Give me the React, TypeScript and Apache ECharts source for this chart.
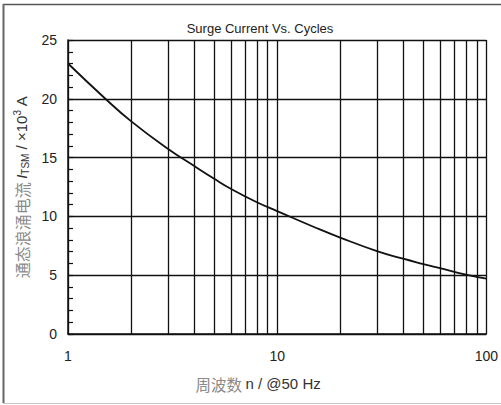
import React, { useEffect, useRef } from "react";
import * as echarts from "echarts";

const cycles = [1, 1.5, 2, 3, 4, 5, 6, 8, 10, 15, 20, 30, 40, 50, 60, 80, 100];
const surgeCurrent = [23.0, 20.05, 18.1, 15.75, 14.3, 13.2, 12.35, 11.2, 10.45, 9.1, 8.2, 7.05, 6.4, 5.95, 5.6, 5.05, 4.7];
const minorGridX = [2, 3, 4, 5, 6, 7, 8, 9, 20, 30, 40, 50, 60, 70, 80, 90];
const yTicks = [0, 5, 10, 15, 20, 25];
const xTicks = [1, 10, 100];

const FONT = "'Liberation Sans Narrow', 'Arial Narrow', 'Liberation Sans', Arial, sans-serif";
const CJK = "'Noto Sans CJK SC', sans-serif";

export default function App() {
  const ref = useRef<HTMLDivElement>(null);
  useEffect(() => {
    if (!ref.current) return;
    const chart = echarts.init(ref.current, undefined, { renderer: "svg" });
    const black = "#111";
    chart.setOption({
      animation: false,
      backgroundColor: "#fff",
      title: {
        text: "Surge Current Vs. Cycles",
        left: 255,
        top: 17,
        textAlign: "center",
        textStyle: { fontFamily: FONT, fontSize: 13, fontWeight: "normal", color: "#222" },
      },
      grid: { left: 68, top: 40, right: 14, bottom: 71 },
      xAxis: {
        type: "log",
        logBase: 10,
        min: xTicks[0],
        max: xTicks[xTicks.length - 1],
        name: "{cn|周波数} {en|n / @50 Hz}",
        nameLocation: "middle",
        nameGap: 42,
        nameTextStyle: {
          padding: [0, 38, 0, 0],
          rich: {
            cn: { fontFamily: CJK, fontSize: 15.5, color: "#8a8a8a" },
            en: { fontFamily: FONT, fontSize: 15, color: "#333" },
          },
        },
        axisLine: { show: true, lineStyle: { color: black, width: 1.5 } },
        axisTick: { show: false },
        axisLabel: {
          fontFamily: FONT,
          fontSize: 14,
          color: "#222",
          margin: 15,
          formatter: (v: number) => String(v),
        },
        splitLine: { show: true, lineStyle: { color: black, width: 1.3 } },
      },
      yAxis: {
        type: "value",
        min: yTicks[0],
        max: yTicks[yTicks.length - 1],
        interval: 5,
        name: "{cn|通态浪涌电流} {it|I}{sub|TSM}{en| / ×10}{sup|3}{en| A}",
        nameLocation: "middle",
        nameGap: 33,
        nameTextStyle: {
          lineHeight: 18,
          rich: {
            cn: { fontFamily: CJK, fontSize: 16, color: "#8a8a8a", lineHeight: 18 },
            it: { fontFamily: FONT, fontSize: 15, fontStyle: "italic", color: "#333", lineHeight: 18 },
            sub: { fontFamily: FONT, fontSize: 10, color: "#333", verticalAlign: "bottom", lineHeight: 18 },
            en: { fontFamily: FONT, fontSize: 15, color: "#333", lineHeight: 18 },
            sup: { fontFamily: FONT, fontSize: 10, color: "#333", verticalAlign: "top", lineHeight: 18 },
          },
        },
        axisLine: { show: true, lineStyle: { color: black, width: 1.5 } },
        axisTick: { show: true, inside: true, length: 5, lineStyle: { color: black, width: 1.2 } },
        minorTick: { show: true, splitNumber: 5, length: 5, lineStyle: { color: black, width: 1.2 } },
        axisLabel: { fontFamily: FONT, fontSize: 14, color: "#222", margin: 11 },
        splitLine: { show: true, lineStyle: { color: black, width: 1.3 } },
      },
      series: [
        {
          type: "line",
          data: cycles.map((n, i) => [n, surgeCurrent[i]]),
          smooth: true,
          symbol: "none",
          lineStyle: { color: black, width: 1.8 },
          z: 5,
          markLine: {
            silent: true,
            symbol: "none",
            label: { show: false },
            lineStyle: { color: black, width: 1.3, type: "solid" },
            data: minorGridX.map((v) => ({ xAxis: v })),
            z: 1,
          },
        },
      ],
      graphic: [
        { type: "line", shape: { x1: 3, y1: 4.5, x2: 501, y2: 4.5 }, style: { stroke: "#555", lineWidth: 1.5 } },
        { type: "line", shape: { x1: 3.5, y1: 4, x2: 3.5, y2: 403 }, style: { stroke: "#666", lineWidth: 2 } },
        { type: "line", shape: { x1: 3, y1: 403.5, x2: 501, y2: 403.5 }, style: { stroke: "#c8c8c8", lineWidth: 1 } },
      ],
    });
    return () => chart.dispose();
  }, []);
  return <div ref={ref} style={{ position: "fixed", left: 0, top: 0, width: 501, height: 405 }} />;
}
